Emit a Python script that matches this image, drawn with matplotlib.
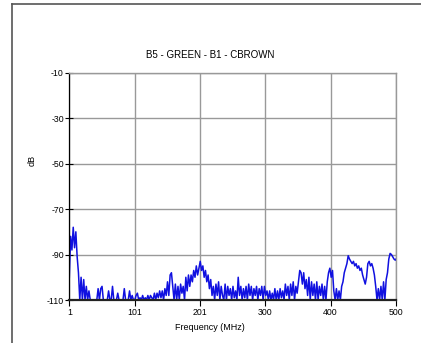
import matplotlib
matplotlib.use("Agg")
import matplotlib.pyplot as plt
from matplotlib.lines import Line2D
import numpy as np

plt.rcParams['font.family'] = ['Liberation Sans', 'DejaVu Sans']

title = "B5 - GREEN - B1 - CBROWN"
xlabel = "Frequency (MHz)"
ylabel = "dB"
xticks = [1, 101, 201, 300, 400, 500]
yticks = [-10, -30, -50, -70, -90, -110]

freq = list(range(1, 500, 2)) + [500]
level = [
    -100, -82, -88, -78, -87, -80, -91, -98, -110, -100,
    -110, -101, -110, -104, -110, -106, -110, -110, -110, -110,
    -110, -110, -105, -110, -105, -104, -110, -110, -110, -110,
    -106, -110, -110, -104, -110, -110, -110, -107, -110, -110,
    -110, -110, -105, -110, -110, -110, -106, -110, -108, -110,
    -110, -108, -107, -110, -109, -110, -108, -110, -109, -110,
    -108, -110, -108, -109, -110, -107, -110, -107, -109, -106,
    -109, -106, -110, -105, -108, -102, -108, -99, -98, -104,
    -110, -103, -110, -104, -110, -103, -107, -104, -110, -100,
    -106, -99, -104, -99, -102, -97, -100, -95, -99, -96,
    -93, -97, -95, -100, -97, -102, -99, -105, -101, -108,
    -104, -110, -103, -108, -102, -110, -104, -108, -110, -103,
    -110, -104, -108, -105, -110, -104, -109, -106, -110, -100,
    -108, -104, -110, -105, -109, -104, -110, -103, -108, -104,
    -110, -105, -108, -104, -110, -105, -108, -104, -110, -104,
    -108, -106, -110, -106, -110, -107, -110, -105, -110, -106,
    -110, -105, -109, -106, -110, -103, -108, -104, -110, -103,
    -108, -102, -110, -104, -107, -102, -97, -98, -103, -98,
    -105, -101, -108, -100, -110, -102, -108, -103, -110, -102,
    -110, -104, -108, -103, -110, -104, -110, -102, -98, -96,
    -100, -97, -106, -110, -105, -110, -106, -110, -104, -102,
    -98, -96, -94, -90.5, -92, -93, -94, -93, -95, -94,
    -96, -95, -97, -96, -99, -101, -103, -100, -94, -93,
    -95, -94, -96, -99, -104, -110, -105, -110, -104, -110,
    -102, -110, -101, -98, -92, -89.5, -90, -91, -92, -92.5,
    -92,
]

W, H = 421, 343
fig = plt.figure(figsize=(W / 100, H / 100), dpi=100)
fig.patch.set_facecolor('white')

# outer frame (top and left edges)
fig.add_artist(Line2D([12 / W, 1.0], [1 - 4 / H, 1 - 4 / H], color='#555555', lw=1.2, transform=fig.transFigure))
fig.add_artist(Line2D([12 / W, 12 / W], [0.0, 1 - 4 / H], color='#555555', lw=1.2, transform=fig.transFigure))

ax = fig.add_axes([69.3 / W, (H - 300) / H, (396 - 69.3) / W, (300 - 72.7) / H])
ax.plot(freq, level, color='#1010e0', lw=1.1)
ax.set_xlim(1, 500)
ax.set_ylim(-110, -10)
ax.set_xticks(xticks)
ax.set_yticks(yticks)
ax.set_xticklabels([str(v) for v in xticks], fontsize=6.3)
ax.set_yticklabels([str(v) for v in yticks], fontsize=6.3)
ax.grid(True, color='#999999', lw=1.0)
ax.set_axisbelow(True)
for s in ['top', 'right']:
    ax.spines[s].set_color('#999999')
    ax.spines[s].set_linewidth(1.0)
ax.spines['left'].set_color('black')
ax.spines['left'].set_linewidth(0.9)
ax.spines['bottom'].set_color('#222222')
ax.spines['bottom'].set_linewidth(1.6)
ax.tick_params(axis='y', direction='inout', length=6, width=0.8, pad=1, colors='black')
ax.tick_params(axis='x', direction='out', length=4, width=0.8, pad=2, colors='black')

fig.text(0.5, 1 - 55 / H, title, ha='center', va='center', fontsize=7)
fig.text(210 / W, 1 - 328 / H, xlabel, ha='center', va='center', fontsize=6.5)
fig.text(32 / W, 1 - 160 / H, ylabel, ha='center', va='center', rotation=90, fontsize=6.5)

fig.savefig('out.png', dpi=100)
